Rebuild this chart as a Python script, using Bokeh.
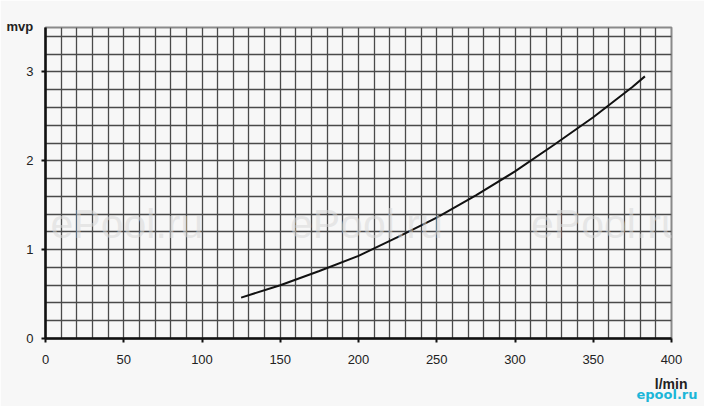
from bokeh.plotting import figure
from bokeh.models import Label, FixedTicker, Range1d, Title
from bokeh.embed import file_html
from bokeh.resources import INLINE

# data
flow = [125, 150, 175, 200, 225, 250, 275, 300, 325, 350, 375, 383]
head = [0.46, 0.60, 0.76, 0.93, 1.14, 1.36, 1.61, 1.88, 2.18, 2.49, 2.83, 2.95]
x_ticks = [0, 50, 100, 150, 200, 250, 300, 350, 400]
y_ticks = [0, 1, 2, 3]
x_grid = list(range(0, 401, 10))
y_grid = [round(i * 0.2, 1) for i in range(0, 18)]
watermarks = ["ePool.ru", "ePool.ru", "ePool.ru"]

BG = "#f7f7f7"
W, H = 704, 406
p = figure(width=W, height=H, output_backend="svg", toolbar_location=None,
           x_range=Range1d(0, 400), y_range=Range1d(0, 3.5),
           min_border_left=45, min_border_right=33, min_border_top=27, min_border_bottom=68)
p.background_fill_color = BG
p.border_fill_color = BG
p.outline_line_color = "#8a8a8a"
p.outline_line_width = 2

p.xaxis.ticker = FixedTicker(ticks=x_ticks)
p.yaxis.ticker = FixedTicker(ticks=y_ticks)
p.xgrid.ticker = FixedTicker(ticks=x_grid)
p.ygrid.ticker = FixedTicker(ticks=y_grid)
for g in (p.xgrid, p.ygrid):
    g.grid_line_color = "#4a4a4a"
    g.grid_line_width = 1.3
    g.grid_line_alpha = 1

for ax in (p.xaxis, p.yaxis):
    ax.axis_line_color = "#111111"
    ax.axis_line_width = 2.5
    ax.major_tick_line_color = "#111111"
    ax.major_tick_line_width = 2
    ax.major_tick_in = 0
    ax.major_tick_out = 4
    ax.minor_tick_line_color = None
    ax.major_label_text_font = "Liberation Sans"
    ax.major_label_text_font_size = "13px"
    ax.major_label_text_color = "#222222"
p.xaxis.major_label_standoff = 12
p.yaxis.major_label_standoff = 8

# watermarks
for t, xx in zip(watermarks, [52, 205, 359]):
    p.add_layout(Label(x=xx, y=1.285, text=t, level="overlay",
                       text_align="center", text_baseline="alphabetic",
                       text_font="Liberation Sans", text_font_size="41px",
                       text_color="#d8d8d8", text_alpha=0.55))

p.line(flow, head, line_color="#111111", line_width=2)

# y unit label (top-left)
p.title.text = "mvp"
p.title.align = "left"
p.title.vertical_align = "bottom"
p.title.offset = -39
p.title.standoff = -12
p.title.text_font = "Liberation Sans"
p.title.text_font_size = "13px"
p.title.text_font_style = "bold"
p.title.text_color = "#222222"

# x unit label and logo (bottom-right)
p.add_layout(Title(text="l/min", align="right", vertical_align="bottom", offset=-16,
                   standoff=14, text_font="Liberation Sans", text_font_size="14px",
                   text_font_style="bold", text_color="#222222"), "below")
p.add_layout(Title(text="epool.ru", align="right", vertical_align="top", offset=-26,
                   standoff=-24, text_font="DejaVu Sans", text_font_size="13px",
                   text_font_style="bold", text_color="#1cb6d8"), "below")

open("out.html", "w").write(file_html(p, INLINE))
